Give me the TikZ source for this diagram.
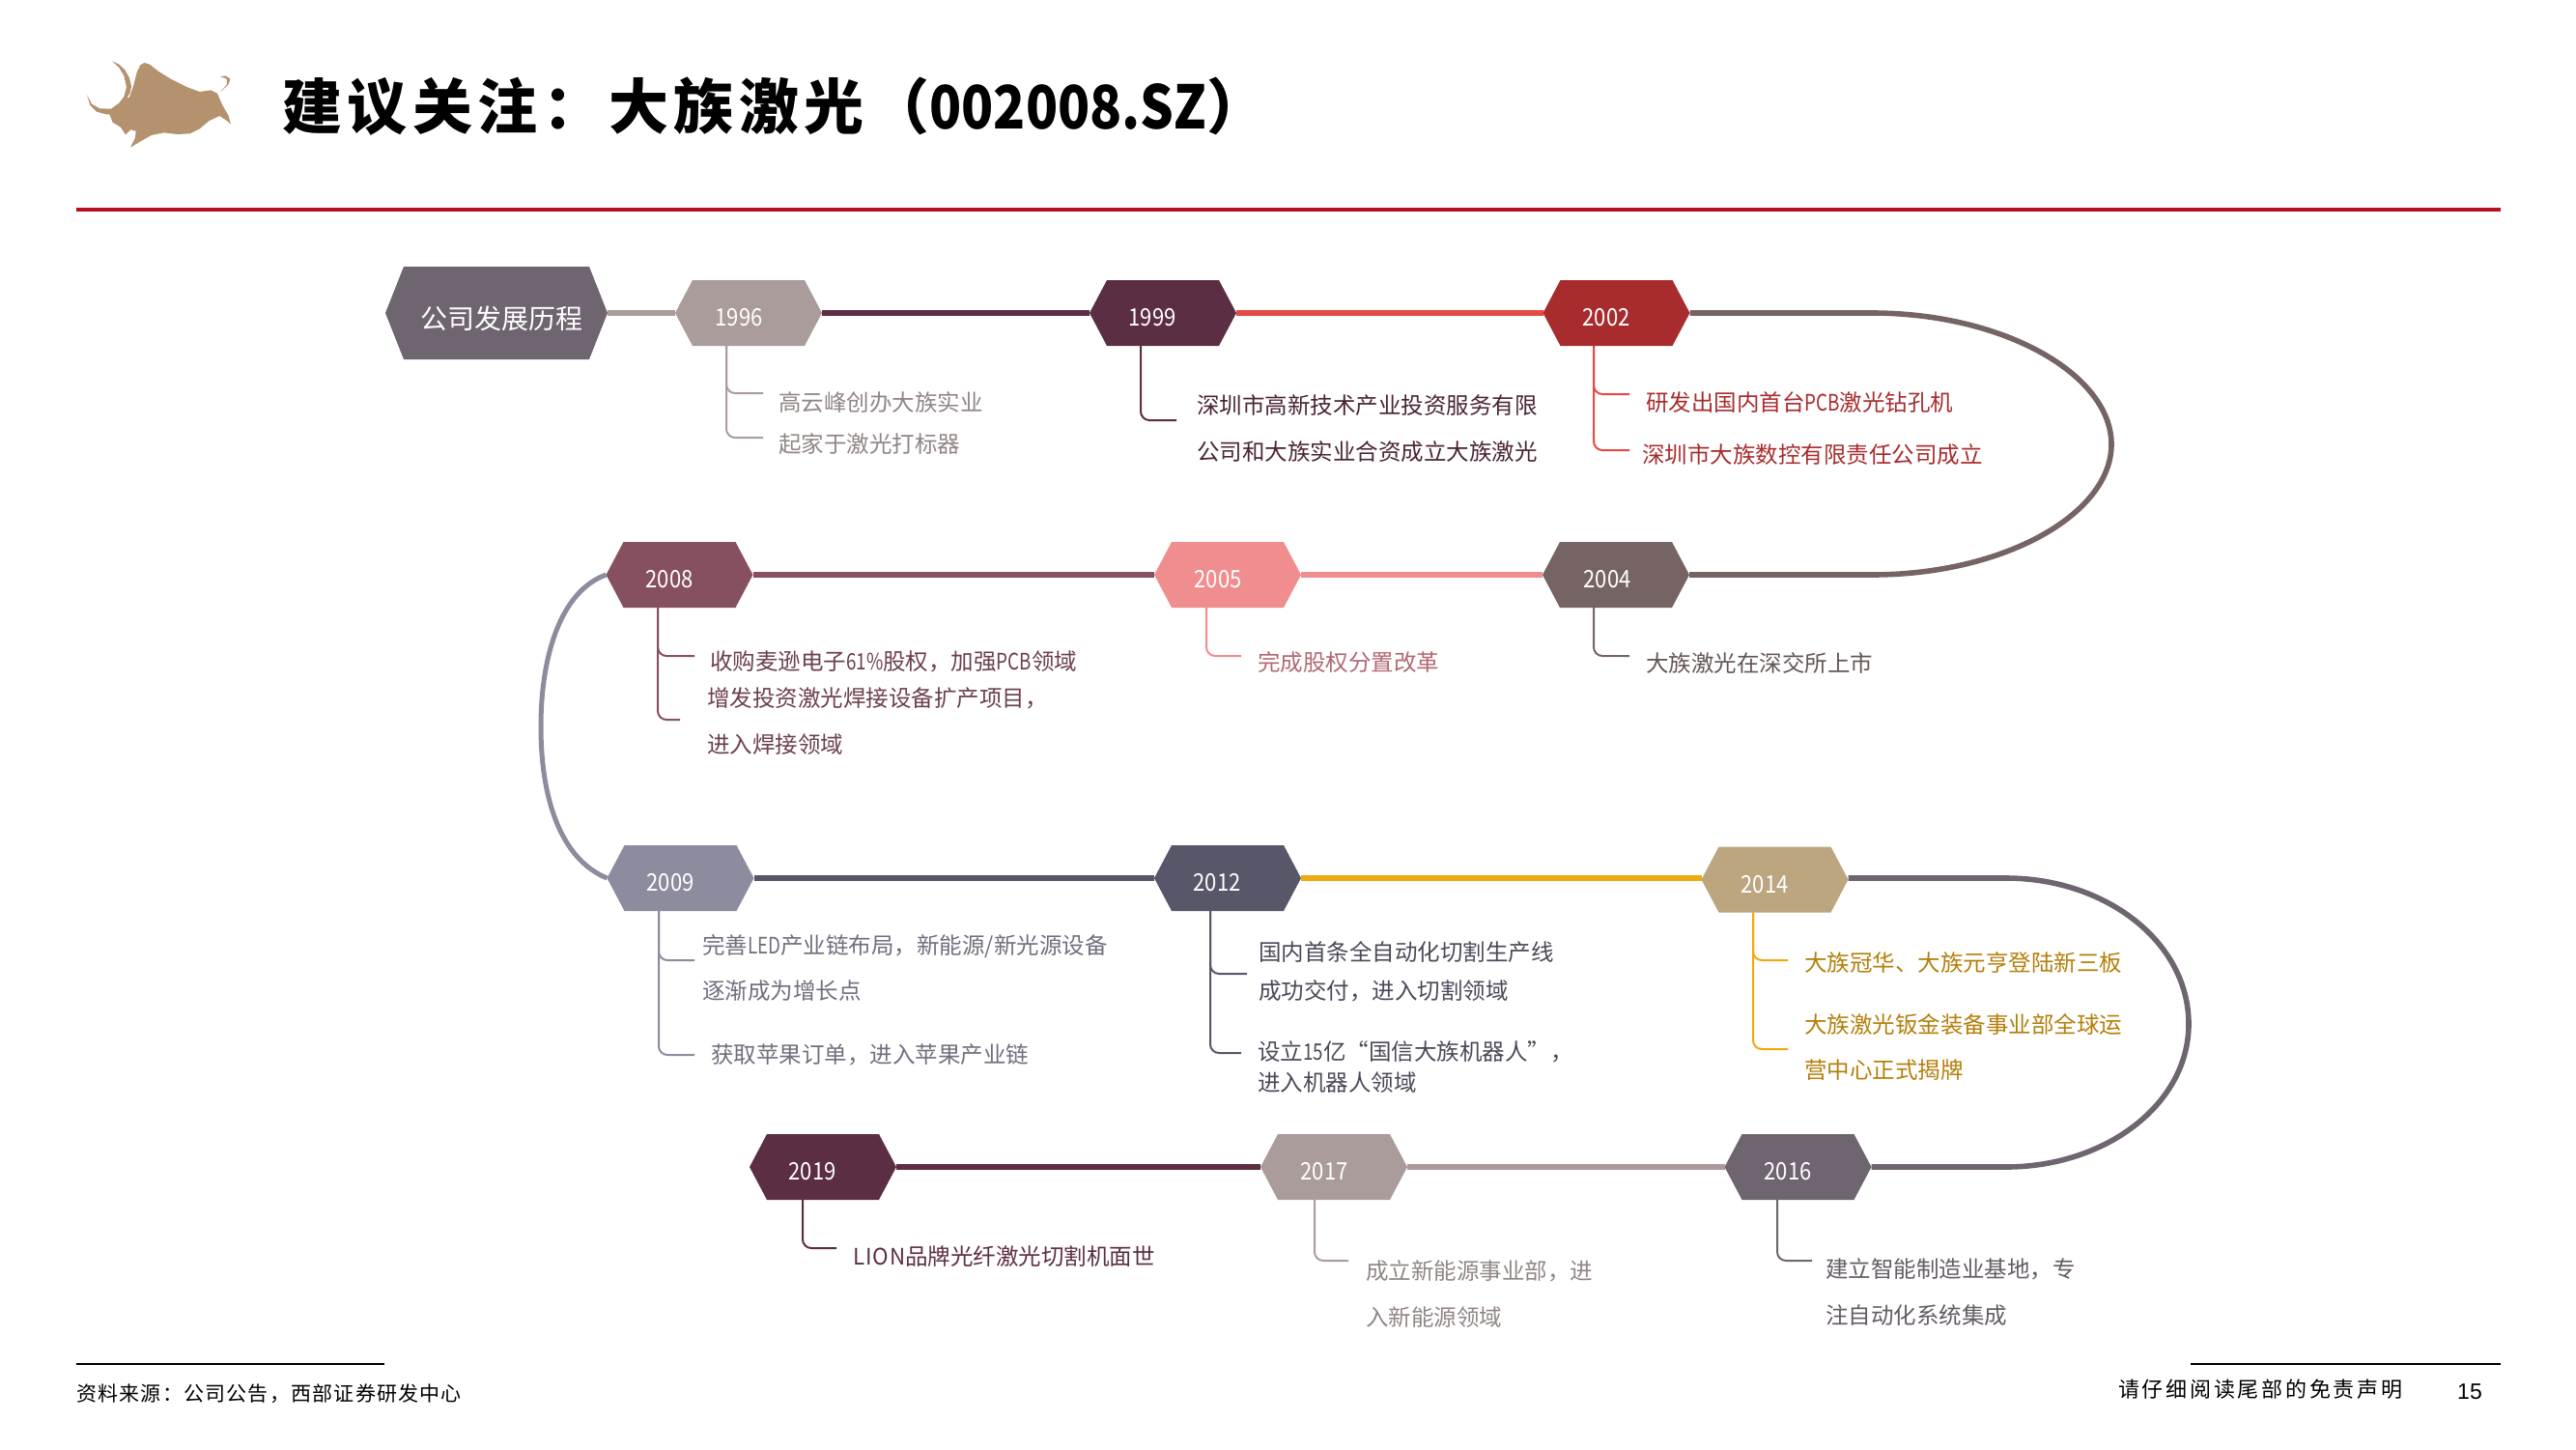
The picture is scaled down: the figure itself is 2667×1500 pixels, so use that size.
\documentclass[tikz,border=0pt]{standalone}
\usepackage{fontspec}
\setmainfont{Liberation Sans}
\newfontfamily\cjk{Noto Sans CJK SC}
\newfontfamily\nar[FakeStretch=0.8]{Noto Sans CJK SC}
\newfontfamily\lionfont[FakeStretch=0.95,LetterSpace=4]{Noto Sans CJK SC}
\newfontfamily\yearfont[FakeStretch=0.88]{Noto Sans CJK SC}
\newfontfamily\titlecjk[LetterSpace=9]{Noto Sans CJK SC}
\newfontfamily\titlelat[FakeStretch=0.88]{Noto Sans CJK SC}
\newfontfamily\footcjk[LetterSpace=5.8]{Noto Sans CJK SC}
\newfontfamily\disccjk[LetterSpace=12.5]{Noto Sans CJK SC}
\usetikzlibrary{calc}
\definecolor{cslate}{HTML}{6F6570}
\definecolor{ctaupe}{HTML}{AB9C9C}
\definecolor{cplum}{HTML}{5C2E44}
\definecolor{cred}{HTML}{E54B45}
\definecolor{cbrick}{HTML}{A82C2E}
\definecolor{cbrown}{HTML}{766465}
\definecolor{cpink}{HTML}{F08D8F}
\definecolor{cwine}{HTML}{87505F}
\definecolor{clav}{HTML}{8D8B9E}
\definecolor{cink}{HTML}{585669}
\definecolor{cgold}{HTML}{F0A90F}
\definecolor{csand}{HTML}{BBA680}
\definecolor{crule}{HTML}{B5121F}
\definecolor{cbull}{HTML}{B4926E}
\tikzset{
  hexbase/.style={rectangle,inner sep=0pt,outer sep=0pt,minimum width=152pt,minimum height=68pt},
  yearlbl/.style={inner sep=0pt,text=white,yshift=-1pt,font=\yearfont\fontsize{25}{29}\selectfont},
  bodytxt/.style={inner sep=0pt,anchor=west,text height=20.7pt,text depth=2.8pt,yshift=-0.6pt,font=\cjk\fontsize{23.5}{28}\selectfont},
  trunk/.style={line width=5.6pt},
  twig/.style={line width=2pt,rounded corners=9pt},
}
\newcommand{\nr}[1]{{\nar #1}}
% name, cx, cy, colour, label, label cx, label cy
\newcommand{\hexnode}[7]{%
  \node[hexbase] (#1) at (#2,#3) {};
  \fill[#4] (#1.west) -- ([xshift=18pt]#1.north west) -- ([xshift=-18pt]#1.north east)
     -- (#1.east) -- ([xshift=-18pt]#1.south east) -- ([xshift=18pt]#1.south west) -- cycle;
  \node[yearlbl] (#1l) at (#6,#7) {#5};
}
\begin{document}
\begin{tikzpicture}[x=1pt,y=-1pt]
\useasboundingbox (0,0) rectangle (2667,1500);
\fill[white] (0,0) rectangle (2667,1500);
% logo
\begin{scope}[shift={(60,40)},x=0.3333pt,y=-0.3333pt]
\fill[cbull,line join=round] (168,69) -- (190,80) -- (208,97) -- (222,122) -- (228,148) -- (224,168) -- (214,185) -- (222,182) -- (235,145) -- (245,105) -- (256,82) -- (268,75) -- (285,80) -- (310,100) -- (350,125) -- (400,150) -- (440,165) -- (475,160) -- (495,170) -- (510,205) -- (530,240) -- (537,266) -- (525,255) -- (502,240) -- (470,255) -- (440,280) -- (410,295) -- (370,297) -- (330,292) -- (290,300) -- (255,320) -- (225,338) -- (240,308) -- (242,287) -- (226,283) -- (210,298) -- (195,275) -- (170,260) -- (160,235) -- (150,235) -- (120,227) -- (100,207) -- (90,175) -- (105,203) -- (130,217) -- (165,218) -- (190,200) -- (205,180) -- (213,150) -- (205,115) -- (190,90) -- cycle;
\fill[cbull] (503,167) -- (525,142) -- (524,125) -- (503,117) -- (522,116) -- (535,125) -- (530,142) -- cycle;
\end{scope}
% title
\node[inner sep=0pt,anchor=west] (title) at (292,110) {\bfseries\fontsize{62}{70}\selectfont {\titlecjk\bfseries 建议关注：大族激光（}{\titlelat\bfseries 002008.SZ}{\titlecjk\bfseries ）}};
\coordinate (ruleL) at (79,217);
\coordinate (ruleR) at (2589,217);
\draw[crule,line width=4pt] (ruleL) -- (ruleR);
% hexagons
\node[hexbase,minimum width=230pt,minimum height=96pt] (head) at (514,324) {};
\fill[cslate] (head.west) -- ([xshift=19pt]head.north west) -- ([xshift=-19pt]head.north east) -- (head.east) -- ([xshift=-19pt]head.south east) -- ([xshift=19pt]head.south west) -- cycle;
\node[inner sep=0pt,text=white,font=\cjk\fontsize{28}{32}\selectfont] (headl) at (519,330) {公司发展历程};
\hexnode{y96}{775}{324}{ctaupe}{1996}{765}{328}
\hexnode{y99}{1204}{324}{cplum}{1999}{1193}{328}
\hexnode{y02}{1673.5}{324}{cbrick}{2002}{1663}{328}
\hexnode{y04}{1673}{595}{cbrown}{2004}{1664}{599}
\hexnode{y05}{1271}{595}{cpink}{2005}{1261}{599}
\hexnode{y08}{703.5}{595}{cwine}{2008}{693}{599}
\hexnode{y09}{704.5}{909}{clav}{2009}{694}{913}
\hexnode{y12}{1271}{909}{cink}{2012}{1260}{913}
\hexnode{y14}{1837.5}{910.5}{csand}{2014}{1827}{915}
\hexnode{y16}{1861.5}{1208}{cslate}{2016}{1851}{1212}
\hexnode{y17}{1381}{1208}{ctaupe}{2017}{1371}{1212}
\hexnode{y19}{852}{1208}{cplum}{2019}{841}{1212}
% trunk
\draw[trunk,ctaupe] (head) ++(115,0) -- (y96.west);
\draw[trunk,cplum] (y96.east) -- (y99.west);
\draw[trunk,cred] (y99.east) -- (y02.west);
\coordinate (ca) at (1938,324); \coordinate (cb) at (2186,460); \coordinate (cc) at (1938,595);
\draw[trunk,cbrown] (y02.east) -- (ca) .. controls (2075,324) and (2186,388) .. (cb) .. controls (2186,532) and (2075,595) .. (cc) -- (y04.east);
\draw[trunk,cpink] (y04.west) -- (y05.east);
\draw[trunk,cwine] (y05.west) -- (y08.east);
\coordinate (cd) at (560,752);
\draw[trunk,clav,line width=5pt] (y08.west) .. controls (580,612) and (560,680) .. (cd) .. controls (560,830) and (582,890) .. (y09.west);
\draw[trunk,cink] (y09.east) -- (y12.west);
\draw[trunk,cgold] (y12.east) -- ([yshift=1.5pt]y14.west);
\coordinate (ce) at (2077,909); \coordinate (cf) at (2266,1060); \coordinate (cg) at (2077,1208);
\draw[trunk,cslate] ([yshift=1.5pt]y14.east) -- (ce) .. controls (2180,909) and (2266,975) .. (cf) .. controls (2266,1143) and (2180,1208) .. (cg) -- (y16.east);
\draw[trunk,ctaupe] (y16.west) -- (y17.east);
\draw[trunk,cplum] (y17.west) -- (y19.east);
% twigs
\coordinate (e96a) at (790,407); \coordinate (e96b) at (790,453);
\draw[twig,ctaupe] ([xshift=-23pt]y96.south) |- (e96a);
\draw[twig,ctaupe] ([xshift=-23pt]y96.south) |- (e96b);
\coordinate (e99) at (1218,435);
\draw[twig,cplum] ([xshift=-23pt]y99.south) |- (e99);
\coordinate (e02a) at (1687,408); \coordinate (e02b) at (1687,466);
\draw[twig,cred] ([xshift=-23.5pt]y02.south) |- (e02a);
\draw[twig,cred] ([xshift=-23.5pt]y02.south) |- (e02b);
\coordinate (e04) at (1687,679);
\draw[twig,cbrown] ([xshift=-23pt]y04.south) |- (e04);
\coordinate (e05) at (1285,679);
\draw[twig,cpink] ([xshift=-22pt]y05.south) |- (e05);
\coordinate (e08a) at (719,679); \coordinate (e08b) at (704,745);
\draw[twig,cwine] ([xshift=-22.5pt]y08.south) |- (e08a);
\draw[twig,cwine] ([xshift=-22.5pt]y08.south) |- (e08b);
\coordinate (e09a) at (719,994); \coordinate (e09b) at (719,1092);
\draw[twig,clav] ([xshift=-22.5pt]y09.south) |- (e09a);
\draw[twig,clav] ([xshift=-22.5pt]y09.south) |- (e09b);
\coordinate (e12a) at (1291,1008); \coordinate (e12b) at (1285,1090);
\draw[twig,cink] ([xshift=-18pt]y12.south) |- (e12a);
\draw[twig,cink] ([xshift=-18pt]y12.south) |- (e12b);
\coordinate (e14a) at (1851,994); \coordinate (e14b) at (1851,1086);
\draw[twig,cgold] ([xshift=-22.5pt]y14.south) |- (e14a);
\draw[twig,cgold] ([xshift=-22.5pt]y14.south) |- (e14b);
\coordinate (e16) at (1876,1305);
\draw[twig,cslate] ([xshift=-21.5pt]y16.south) |- (e16);
\coordinate (e17) at (1396,1305);
\draw[twig,ctaupe] ([xshift=-20pt]y17.south) |- (e17);
\coordinate (e19) at (866,1292);
\draw[twig,cplum] ([xshift=-21pt]y19.south) |- (e19);
% texts
\node[bodytxt,text=ctaupe!85!black] (t96a) at (806,416) {高云峰创办大族实业};
\node[bodytxt,text=ctaupe!85!black] (t96b) at (806,459) {起家于激光打标器};
\node[bodytxt,text=cplum!80!black] (t99a) at (1239,419) {深圳市高新技术产业投资服务有限};
\node[bodytxt,text=cplum!80!black] (t99b) at (1239,467) {公司和大族实业合资成立大族激光};
\node[bodytxt,text=cbrick] (t02a) at (1704,416) {研发出国内首台\nr{PCB}激光钻孔机};
\node[bodytxt,text=cbrick] (t02b) at (1700,470) {深圳市大族数控有限责任公司成立};
\node[bodytxt,text=cbrown!85!black] (t04) at (1704,686) {大族激光在深交所上市};
\node[bodytxt,text=cwine!60!cpink] (t05) at (1302,685) {完成股权分置改革};
\node[bodytxt,text=cwine!80!black] (t08a) at (735,684) {收购麦逊电子\nr{61\%}股权，加强\nr{PCB}领域};
\node[bodytxt,text=cwine!80!black] (t08b) at (732,722) {增发投资激光焊接设备扩产项目，};
\node[bodytxt,text=cwine!80!black] (t08c) at (732,770) {进入焊接领域};
\node[bodytxt,text=clav!80!black] (t09a) at (727,978) {完善\nr{LED}产业链布局，新能源/新光源设备};
\node[bodytxt,text=clav!80!black] (t09b) at (727,1025) {逐渐成为增长点};
\node[bodytxt,text=clav!80!black] (t09c) at (736,1091) {获取苹果订单，进入苹果产业链};
\node[bodytxt,text=cink!85!black] (t12a) at (1303,985) {国内首条全自动化切割生产线};
\node[bodytxt,text=cink!85!black] (t12b) at (1303,1025) {成功交付，进入切割领域};
\node[bodytxt,text=cink!85!black] (t12c) at (1302,1088) {设立\nr{15}亿“国信大族机器人”，};
\node[bodytxt,text=cink!85!black] (t12d) at (1302,1120) {进入机器人领域};
\node[bodytxt,text=cgold!75!black] (t14a) at (1868,996) {大族冠华、大族元亨登陆新三板};
\node[bodytxt,text=cgold!75!black] (t14b) at (1868,1060) {大族激光钣金装备事业部全球运};
\node[bodytxt,text=cgold!75!black] (t14c) at (1868,1107) {营中心正式揭牌};
\node[bodytxt,text=cslate!90!black] (t16a) at (1890,1313) {建立智能制造业基地，专};
\node[bodytxt,text=cslate!90!black] (t16b) at (1890,1361) {注自动化系统集成};
\node[bodytxt,text=ctaupe!85!black] (t17a) at (1414,1315) {成立新能源事业部，进};
\node[bodytxt,text=ctaupe!85!black] (t17b) at (1414,1363) {入新能源领域};
\node[bodytxt,text=cplum] (t19) at (883,1300) {{\lionfont LION}品牌光纤激光切割机面世};
% footer
\coordinate (flA) at (79,1412); \coordinate (flB) at (398,1412);
\coordinate (frA) at (2268,1412); \coordinate (frB) at (2589,1412);
\draw[black,line width=1.2pt] (flA) -- (flB);
\draw[black,line width=1.2pt] (frA) -- (frB);
\node[inner sep=0pt,anchor=west] (src) at (79,1443) {\footcjk\fontsize{21}{25}\selectfont 资料来源：公司公告，西部证券研发中心};
\node[inner sep=0pt,anchor=west] (disc) at (2193,1438) {\disccjk\fontsize{22}{26}\selectfont 请仔细阅读尾部的免责声明};
\node[inner sep=0pt] (pg) at (2557,1441) {\fontsize{23}{27}\selectfont 15};
\end{tikzpicture}
\end{document}
